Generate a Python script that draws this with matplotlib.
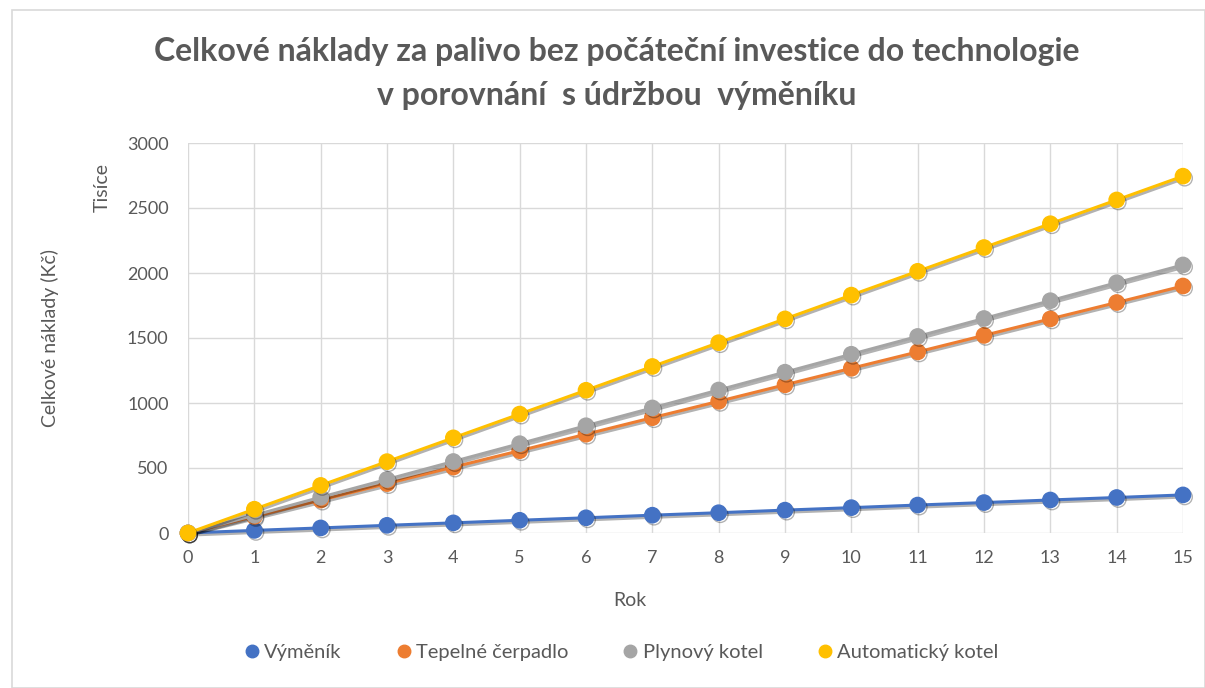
import matplotlib
matplotlib.use("Agg")
import matplotlib.pyplot as plt
import matplotlib.patheffects as pe
from matplotlib.patches import Rectangle

years = list(range(16))
vymenik = [0, 20, 39, 59, 78, 98, 117, 137, 156, 176, 195, 215, 234, 254, 273, 293]
cerpadlo = [0, 127, 253, 380, 507, 633, 760, 887, 1013, 1140, 1267, 1393, 1520, 1647, 1773, 1900]
plyn = [0, 137, 275, 412, 550, 687, 825, 962, 1100, 1237, 1375, 1512, 1650, 1787, 1925, 2062]
automat = [0, 183, 366, 549, 732, 915, 1098, 1281, 1464, 1647, 1830, 2013, 2196, 2379, 2562, 2745]
series_names = ["Výměník", "Tepelné čerpadlo", "Plynový kotel", "Automatický kotel"]
colors = ["#4472C4", "#ED7D31", "#A5A5A5", "#FFC000"]
yticks = [0, 500, 1000, 1500, 2000, 2500, 3000]

plt.rcParams['font.family'] = ['Lato', 'DejaVu Sans']
txt = "#595959"

fig = plt.figure(figsize=(12.05, 6.88), dpi=100)
fig.patches.append(Rectangle((12/1205, 0), 1 - 12/1205, 1 - 10/688, transform=fig.transFigure,
                             fill=False, edgecolor="#D9D9D9", lw=1.2))
ax = fig.add_axes([188/1205, 1 - 533/688, (1183 - 188)/1205, (533 - 143)/688])

for vals, name, c in zip([vymenik, cerpadlo, plyn, automat], series_names, colors):
    ax.plot(years, vals, color=c, lw=2.2, marker="o", markersize=11, label=name,
            path_effects=[pe.SimpleLineShadow(offset=(1.2, -1.5), shadow_color="black", alpha=0.3),
                          pe.Normal()],
            clip_on=False, zorder=3)

ax.set_xlim(0, 15)
ax.set_ylim(0, 3000)
ax.set_xticks(years)
ax.set_yticks(yticks)
ax.grid(True, color="#D9D9D9", lw=1)
ax.set_axisbelow(True)
for s in ax.spines.values():
    s.set_visible(False)
ax.tick_params(length=0, labelsize=13, colors=txt, pad=12)
ax.tick_params(axis="y", pad=14)

fig.text(630/1205, 1 - 600/688, "Rok", ha="center", va="center", fontsize=14, color=txt)
fig.text(50/1205, 1 - 338/688, "Celkové náklady (Kč)", ha="center", va="center", rotation=90,
         fontsize=14, color=txt)
fig.text(102/1205, 1 - 188/688, "Tisíce", ha="center", va="center", rotation=90,
         fontsize=14, color=txt)
fig.text(617/1205, 1 - 52/688, "Celkové náklady za palivo bez počáteční investice do technologie",
         ha="center", va="center", fontsize=23, fontweight="bold", color=txt)
fig.text(617/1205, 1 - 96/688, "v porovnání  s údržbou  výměníku",
         ha="center", va="center", fontsize=23, fontweight="bold", color=txt)

handles = [plt.Line2D([], [], ls="none", marker="o", markersize=9, color=c) for c in colors]
fig.legend(handles, series_names, loc="center", bbox_to_anchor=(620/1205, 1 - 652/688), ncol=4,
           frameon=False, fontsize=14.5, labelcolor=txt, handletextpad=0.1, columnspacing=2.6,
           handlelength=1.0)

fig.savefig("out.png", dpi=100)
